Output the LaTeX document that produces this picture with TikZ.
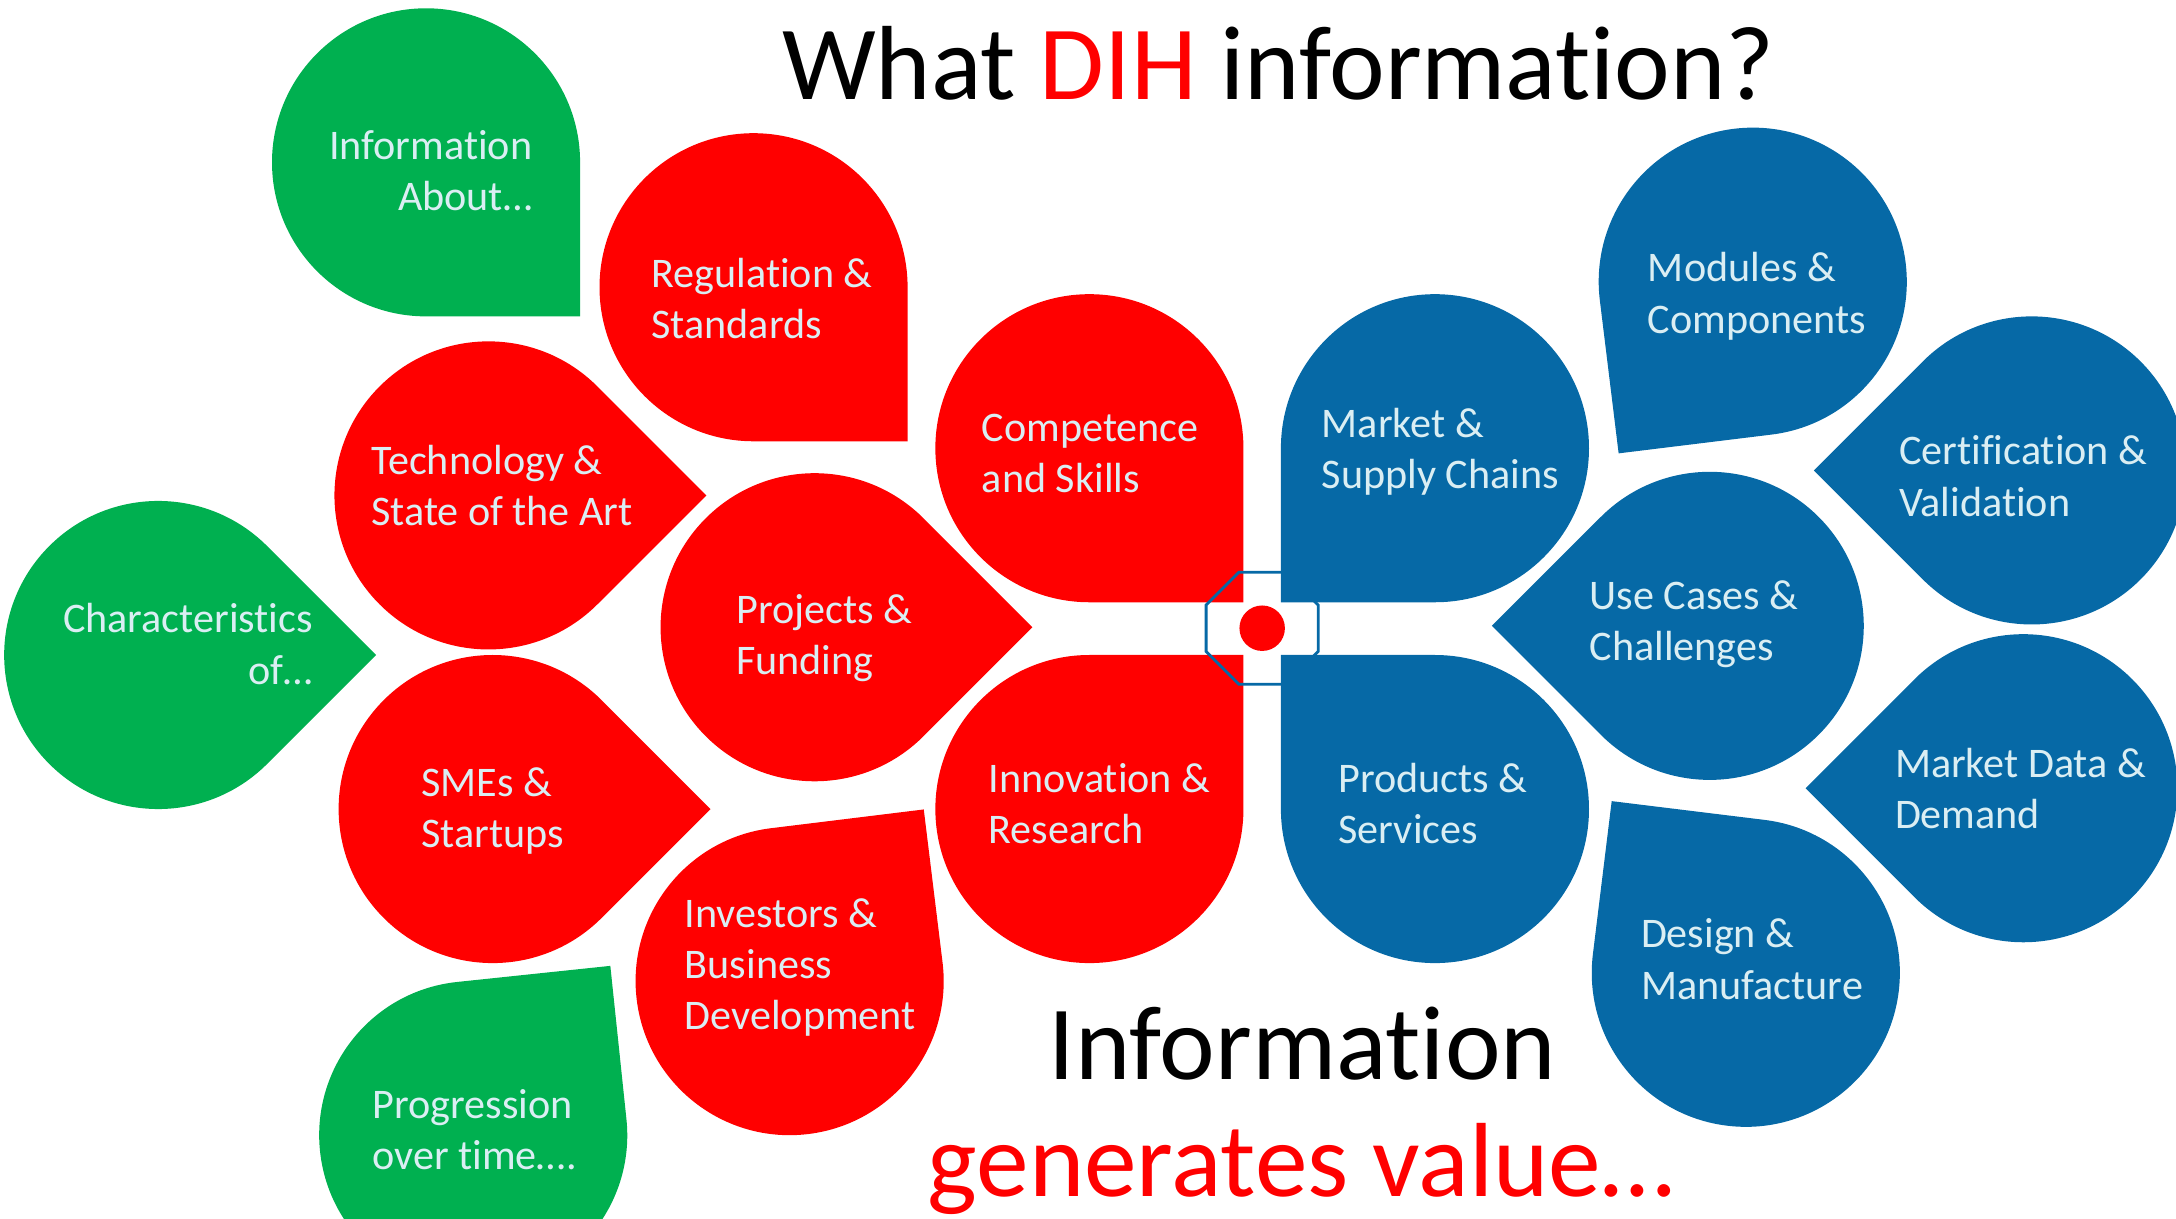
\documentclass[tikz,border=0pt]{standalone}
\usepackage{fontspec}
\setmainfont{Carlito}[Ligatures = {NoCommon, NoContextual}]
\usepackage{tikz}
\usetikzlibrary{shapes.geometric, positioning}
\definecolor{dihred}{RGB}{255,0,0}
\definecolor{dihgreen}{RGB}{0,176,80}
\definecolor{dihblue}{RGB}{6,105,166}
\definecolor{paletext}{RGB}{218,238,243}
\tikzstyle{redpetal} = [fill = dihred]
\tikzstyle{greenpetal} = [fill = dihgreen]
\tikzstyle{bluepetal} = [fill = dihblue]
\tikzstyle{petaltext} = [
  text = paletext, inner sep = 0, align = left, anchor = base west,
  font = \fontsize{12}{14.6}\selectfont
]
\tikzstyle{rpetaltext} = [petaltext, align = right, anchor = base east]
\tikzstyle{headline} = [inner sep = 0, anchor = base west,
  font = \fontsize{30}{36}\selectfont]
% teardrop: style, centre x, centre y, rotation
\newcommand{\petal}[4]{
  \begin{scope}[shift = {(#2, #3)}, rotate = #4]
    \fill [#1] (0, -111) -- (111, -111) -- (111, 0) arc (0 : 270 : 111) -- cycle;
  \end{scope}
}

\begin{document}
\begin{tikzpicture}[x = 0.013878cm, y = 0.013878cm]
  \useasboundingbox (0, 0) rectangle (1568, 878);
  % green
  \petal{greenpetal}{307}{761}{0}
  \petal{greenpetal}{114}{406}{45}
  \petal{greenpetal}{341}{60}{96}
  % red
  \petal{redpetal}{543}{671}{0}
  \petal{redpetal}{352}{521}{45}
  \petal{redpetal}{785}{555}{0}
  \petal{redpetal}{587}{426}{45}
  \petal{redpetal}{355}{295}{45}
  \petal{redpetal}{785}{295}{90}
  \petal{redpetal}{569}{171}{97}
  % blue
  \petal{bluepetal}{1034}{555}{-90}
  \petal{bluepetal}{1034}{295}{180}
  \petal{bluepetal}{1263}{675}{-83}
  \petal{bluepetal}{1464}{539}{225}
  \petal{bluepetal}{1232}{427}{225}
  \petal{bluepetal}{1458}{310}{225}
  \petal{bluepetal}{1258}{177}{173}

  % hub
  \node [regular polygon, regular polygon sides = 8, minimum size = 1.214cm,
    inner sep = 0, draw = dihblue, line width = 0.8pt] (hub) at (909.5, 425.3) {};
  \node [circle, fill = dihred, minimum size = 0.455cm, inner sep = 0]
    (hub-dot) at (hub.center) {};

  % petal texts (base = last line)
  \node [rpetaltext] (txt-g-1) at (384, 726) {Information\\About…};
  \node [rpetaltext] (txt-g-2) at (226, 385) {Characteristics\\of…};
  \node [petaltext] (txt-g-3) at (268, 35) {Progression\\over time….};
  \node [petaltext] (txt-r-1) at (469, 634) {Regulation \&\\Standards};
  \node [petaltext] (txt-r-2) at (267, 499) {Technology \&\\State of the Art};
  \node [petaltext] (txt-r-3) at (707, 523) {Competence\\and Skills};
  \node [petaltext] (txt-r-4) at (530, 392) {Projects \&\\Funding};
  \node [petaltext] (txt-r-5) at (303, 267) {SMEs \&\\Startups};
  \node [petaltext] (txt-r-6) at (712, 270) {Innovation \&\\Research};
  \node [petaltext] (txt-r-7) at (493, 136) {Investors \&\\Business\\Development};
  \node [petaltext] (txt-b-1) at (952, 526) {Market \&\\Supply Chains};
  \node [petaltext] (txt-b-2) at (964, 270) {Products \&\\Services};
  \node [petaltext] (txt-b-3) at (1187, 638) {Modules \&\\Components};
  \node [petaltext] (txt-b-4) at (1368, 506) {Certification \&\\Validation};
  \node [petaltext] (txt-b-5) at (1145, 402) {Use Cases \&\\Challenges};
  \node [petaltext] (txt-b-6) at (1365, 281) {Market Data \&\\Demand};
  \node [petaltext] (txt-b-7) at (1182, 158) {Design \&\\Manufacture};

  % headlines
  \node [headline] (title) at (563, 806)
    {What \textcolor{dihred}{DIH} information?};
  \node [headline] (info) at (755, 100) {Information};
  \node [headline, text = dihred] (value) at (668, 16) {generates value…};
\end{tikzpicture}
\end{document}
